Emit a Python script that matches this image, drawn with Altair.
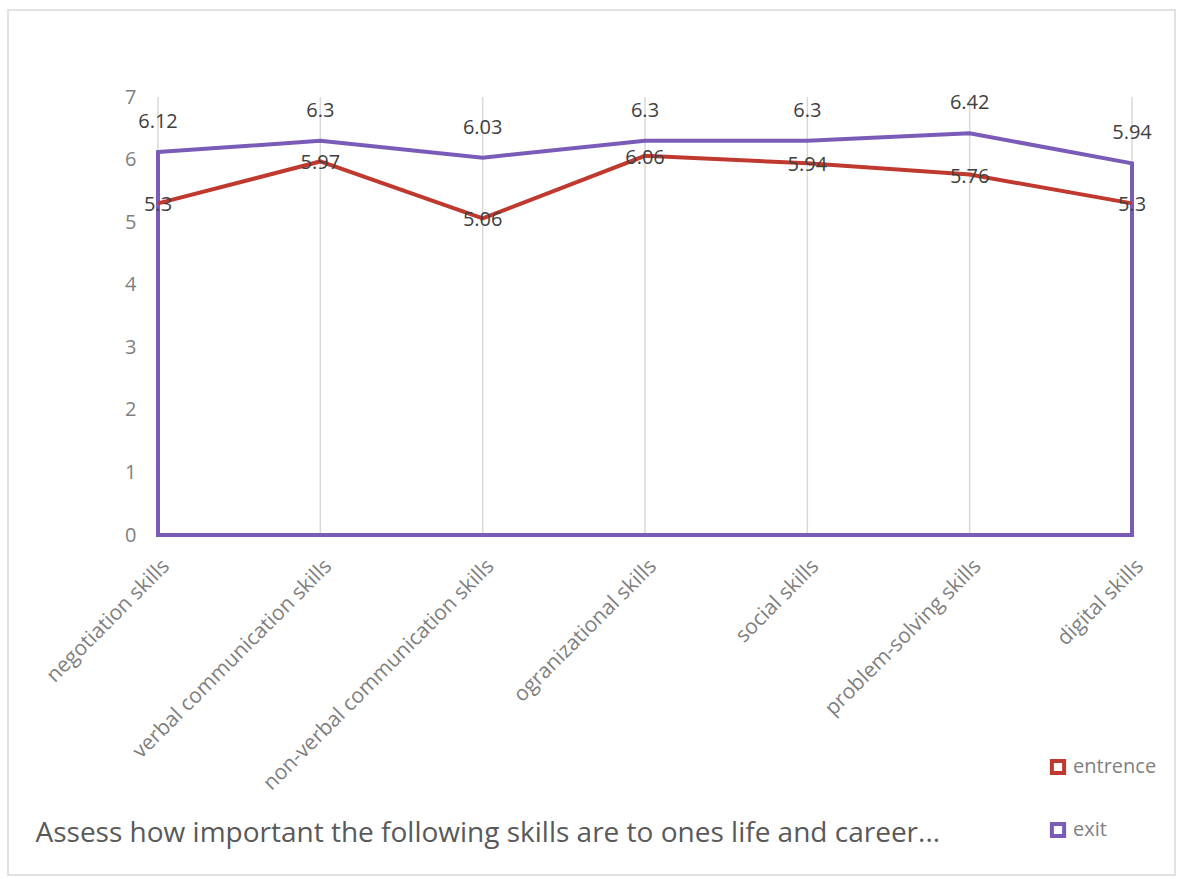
import altair as alt
import pandas as pd

categories = ["negotiation skills", "verbal communication skills", "non-verbal communication skills",
              "ogranizational skills", "social skills", "problem-solving skills", "digital skills"]
entrence = [5.3, 5.97, 5.06, 6.06, 5.94, 5.76, 5.3]
exit_vals = [6.12, 6.3, 6.03, 6.3, 6.3, 6.42, 5.94]
series_names = ["entrence", "exit"]
y_ticks = [0, 1, 2, 3, 4, 5, 6, 7]
title_text = "Assess how important the following skills are to ones life and career..."

FONT = "Open Sans"
RED = "#C0392F"
PURPLE = "#7B5BB8"

df_in = pd.DataFrame({"skill": categories, "value": entrence, "series": series_names[0]})
df_out = pd.DataFrame({"skill": categories, "value": exit_vals, "series": series_names[1]})
df_cat = pd.DataFrame({"skill": categories})

W, H = 974, 438

x_enc = alt.X("skill:N", sort=categories, scale=alt.Scale(type="point", padding=0),
              axis=alt.Axis(title=title_text, labelAngle=-45, labelFontSize=21, labelColor="#7f7f7f",
                            labelFont=FONT, labelPadding=20, labelLimit=500, labelOverlap=False,
                            grid=False, domain=False, ticks=False,
                            titleX=-123, titleY=298, titleAlign="left", titleBaseline="middle",
                            titleFontSize=28, titleFontWeight="normal", titleColor="#595959", titleFont=FONT,
                            titleAnchor="start", titleLimit=1200))
y_enc = alt.Y("value:Q", scale=alt.Scale(domain=[0, 7], nice=False),
              axis=alt.Axis(title=None, values=y_ticks, labelFontSize=20, labelColor="#7f7f7f",
                            labelFont=FONT, labelPadding=22, grid=False, domain=False, ticks=False))
stroke_scale = alt.Scale(domain=series_names, range=[RED, PURPLE])

frame = alt.Chart(pd.DataFrame({"a": [0]})).mark_rect(
    fill="white", fillOpacity=0, stroke="#d9d9d9", strokeWidth=1.5
).encode(x=alt.value(-150), x2=alt.value(1017), y=alt.value(-87), y2=alt.value(778))

cover = alt.Chart(pd.DataFrame({"a": [0]})).mark_rule(color="white", strokeWidth=3).encode(
    x=alt.value(-4), x2=alt.value(W + 4), y=alt.value(0))

grid = alt.Chart(df_cat).mark_rule(color="#d9d9d9", strokeWidth=1.5).encode(
    x=x_enc, y=alt.value(0), y2=alt.value(H))

area = alt.Chart(df_out).mark_area(fill="white", fillOpacity=0, strokeWidth=4, strokeJoin="miter").encode(
    x=x_enc, y=y_enc,
    stroke=alt.Stroke("series:N", scale=stroke_scale,
                      legend=alt.Legend(title=None, orient="none", legendX=890, legendY=660,
                                        symbolType="square", symbolFillColor="white", symbolSize=150,
                                        symbolStrokeWidth=4, symbolOpacity=1, labelFontSize=20,
                                        labelColor="#7f7f7f",
                                        labelFont=FONT, rowPadding=33, labelOffset=5)))
line = alt.Chart(df_in).mark_line(strokeWidth=4).encode(
    x=x_enc, y=y_enc, stroke=alt.Stroke("series:N", scale=stroke_scale))

lab_out = alt.Chart(df_out).mark_text(fontSize=20, color="#404040", font=FONT, dy=-30,
                                      baseline="middle").encode(x=x_enc, y=y_enc, text="value:Q")
lab_in = alt.Chart(df_in).mark_text(fontSize=20, color="#404040", font=FONT, dy=2,
                                    baseline="middle").encode(x=x_enc, y=y_enc, text="value:Q")

chart = alt.layer(frame, cover, grid, area, line, lab_out, lab_in).properties(
    width=W, height=H,
    autosize=alt.AutoSizeParams(type="none"),
    padding={"left": 158, "top": 97, "right": 51, "bottom": 344},
).configure(background="white").configure_view(strokeWidth=0, strokeOpacity=0, stroke="transparent")

chart.save("out.html", embed_options={"renderer": "svg", "actions": False})
